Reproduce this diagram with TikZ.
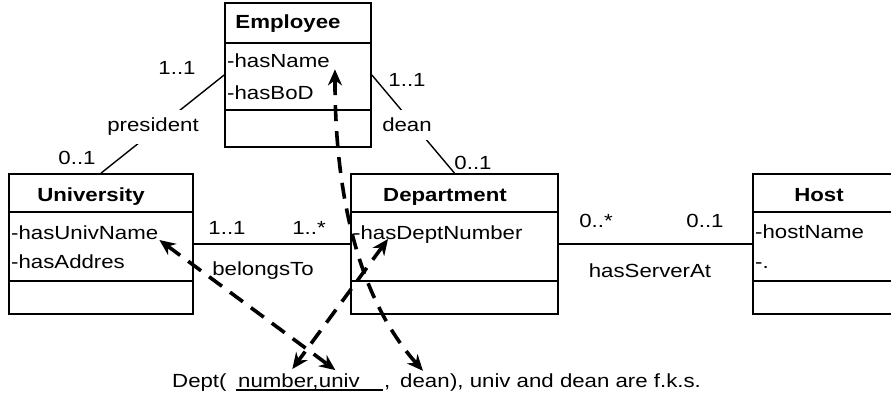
\documentclass[tikz,border=0pt]{standalone}
\usepackage{fontspec}
\setmainfont{Liberation Sans}[FakeStretch=1.17]
\usetikzlibrary{arrows.meta,positioning}

\begin{document}
\begin{tikzpicture}[
  x=1pt, y=-1pt,
  every node/.style={font=\fontsize{19}{22}\selectfont},
  cls/.style={
    draw, line width=1.7pt, inner sep=0pt
  },
  ttl/.style={font=\fontsize{19}{22}\selectfont\bfseries, anchor=base},
  attr/.style={anchor=base west, inner sep=1pt},
  mult/.style={anchor=base, inner sep=1pt},
  role/.style={anchor=base, fill=white, inner xsep=2pt, inner ysep=8pt},
  word/.style={inner sep=0pt},
  assoc/.style={line width=1.4pt},
  fk/.style={
    line width=3.6pt, dash pattern=on 16pt off 10pt,
    {Stealth[length=16pt, width=14pt]}-{Stealth[length=16pt, width=14pt]}
  }
]
  \useasboundingbox (0,0) rectangle (891,398);
  \clip (0,0) rectangle (891,398);
  \foreach \n/\cx/\cy/\w/\h in {emp/298/75/146/144, univ/101/244/184/140,
      dept/454.5/244/207/140, host/829/244/152/140} {
    \node[cls, minimum width=\w pt, minimum height=\h pt] (\n) at (\cx,\cy){};
  }
  \foreach \n/\a/\b in {emp/43/110, univ/212/281, dept/212/281, host/212/281} {
    \draw[line width=1.7pt] (\n.west |- 0,\a) -- (\n.east |- 0,\a);
    \draw[line width=1.7pt] (\n.west |- 0,\b) -- (\n.east |- 0,\b);
  }
  \node[ttl] (empT) at (288,29){Employee};
  \node[ttl] (univT) at (91,202){University};
  \node[ttl] (deptT) at (445,201){Department};
  \node[ttl] (hostT) at (819,201){Host};
  \node[attr] (eName) at (226,68){-hasName};
  \node[attr] (eBoD) at (226,100){-hasBoD};
  \node[attr] (uName) at (10,240){-hasUnivName};
  \node[attr] (uAddr) at (10,268){-hasAddres};
  \node[attr] (dNum) at (352,239){-hasDeptNumber};
  \node[attr] (hName) at (754,238){-hostName};
  \node[attr] (hDot) at (754,268){-.};
  \draw[assoc] (emp.west) -- (univ.north);
  \draw[assoc] (emp.east) -- (dept.north);
  \draw[assoc] (univ.east) -- (dept.west);
  \draw[assoc] (dept.east) -- (host.west);
  \node[role] (presL) at (153,132){president};
  \node[role] (deanL) at (407,132){dean};
  \node[mult] (presE) at (177,75){1..1};
  \node[mult] (presU) at (77,165){0..1};
  \node[mult] (deanE) at (407,87){1..1};
  \node[mult] (deanD) at (473,170){0..1};
  \node[mult] (belU) at (227,234){1..1};
  \node[mult] (belD) at (309,234){1..*};
  \node[mult] (belL) at (263,275){belongsTo};
  \node[mult] (srvD) at (596,227){0..*};
  \node[mult] (srvH) at (705,227){0..1};
  \node[mult] (srvL) at (650,277){hasServerAt};
  \node[word, anchor=base west] (deptW) at (172,387){Dept(};
  \node[word, anchor=base west] (numW) at (238,387){number,};
  \node[word, base right=0pt of numW] (univW){univ};
  \node[word, anchor=base west] (commaW) at (384,387){,};
  \node[word, anchor=base west] (deanW) at (400,387){dean};
  \node[word, base right=0pt of deanW] (restW){), univ and dean are f.k.s.};
  \draw[line width=1.2pt] ([xshift=-2pt, yshift=-3pt]numW.base west)
    -- ([xshift=-1pt, yshift=-3pt]commaW.base west);
  \draw[fk, shorten >=5pt] (uName.base east) -- (univW.north);
  \draw[fk, shorten >=5pt] ([xshift=36pt]dNum.base west) -- ([xshift=11pt]numW.north);
  \draw[fk, shorten >=3pt] ([xshift=4pt]eName.south east)
    .. controls (335,200) and (360,300) .. (deanW.north);
\end{tikzpicture}
\end{document}
